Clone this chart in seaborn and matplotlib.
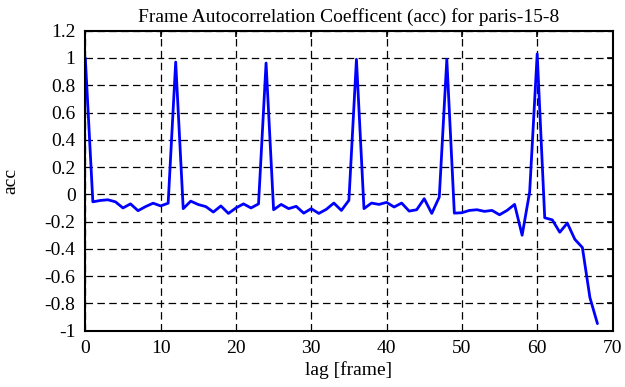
import matplotlib
matplotlib.use("Agg")
import matplotlib.pyplot as plt
import seaborn as sns
import pandas as pd

lags = list(range(69))
acc = [1.0, -0.055, -0.045, -0.04, -0.055, -0.10, -0.07, -0.12, -0.09, -0.065,
       -0.085, -0.065, 0.97, -0.105, -0.05, -0.075, -0.09, -0.13, -0.085, -0.14,
       -0.10, -0.07, -0.10, -0.07, 0.963, -0.113, -0.074, -0.105, -0.088, -0.138,
       -0.105, -0.14, -0.11, -0.064, -0.118, -0.044, 0.99, -0.105, -0.064, -0.074,
       -0.059, -0.093, -0.064, -0.123, -0.113, -0.032, -0.14, -0.02, 0.99, -0.138,
       -0.135, -0.118, -0.113, -0.125, -0.118, -0.15, -0.118, -0.074, -0.30, 0.017,
       1.03, -0.172, -0.187, -0.278, -0.211, -0.33, -0.39, -0.757, -0.948]
xticks = [0, 10, 20, 30, 40, 50, 60, 70]
yticks = [-1, -0.8, -0.6, -0.4, -0.2, 0, 0.2, 0.4, 0.6, 0.8, 1, 1.2]
ytick_labels = ["-1", "-0.8", "-0.6", "-0.4", "-0.2", "0", "0.2", "0.4", "0.6", "0.8", "1", "1.2"]

df = pd.DataFrame({"lag": lags, "acc": acc})

sns.set_theme(style="white")
plt.rcParams['font.family'] = ['Liberation Serif', 'DejaVu Serif']

fig = plt.figure(figsize=(6.25, 3.87), dpi=100)
ax = fig.add_axes([0.1365, 0.1455, 0.98 - 0.1365, 0.9207 - 0.1455])

sns.lineplot(data=df, x="lag", y="acc", ax=ax, color=(0, 0, 1), linewidth=2.0)

ax.set_xlim(0, 70)
ax.set_ylim(-1, 1.2)
ax.set_xticks(xticks)
ax.set_xticklabels([str(t) for t in xticks])
ax.set_yticks(yticks)
ax.set_yticklabels(ytick_labels)
ax.grid(True, color="black", linestyle=(0, (6, 3.5)), linewidth=0.9)
ax.tick_params(direction="in", length=4, width=1.2, top=True, right=True,
               labelsize=14, colors="black", pad=7)
for s in ax.spines.values():
    s.set_color("black")
    s.set_linewidth(1.5)
ax.set_xlabel("lag [frame]", fontsize=14, color="black", labelpad=3)
ax.set_ylabel("acc", fontsize=14, color="black", labelpad=18)
ax.set_title("Frame Autocorrelation Coefficent (acc) for paris-15-8", fontsize=14,
             color="black", pad=6)

fig.savefig("out.png", dpi=100)
